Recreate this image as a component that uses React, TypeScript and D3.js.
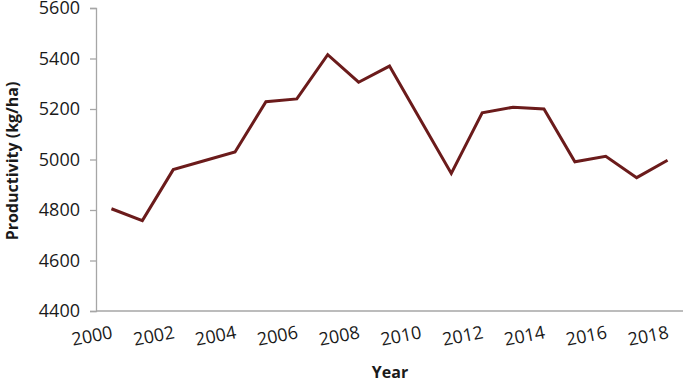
import React, { useEffect, useRef } from "react";
import * as d3 from "d3";

const years = [
  2000, 2001, 2002, 2003, 2004, 2005, 2006, 2007, 2008, 2009,
  2010, 2011, 2012, 2013, 2014, 2015, 2016, 2017, 2018,
];
const productivity = [
  4805, 4758, 4960, 4995, 5030, 5229, 5240, 5415, 5306, 5370,
  5157, 4945, 5185, 5207, 5200, 4991, 5013, 4928, 4997,
];
const yTicks = [4400, 4600, 4800, 5000, 5200, 5400, 5600];
const xTickLabels = [2000, 2002, 2004, 2006, 2008, 2010, 2012, 2014, 2016, 2018];

const App = () => {
  const ref = useRef<SVGSVGElement>(null);

  const W = 685;
  const H = 383;
  const margin = { top: 8, right: 2, bottom: 72, left: 96 };
  const width = W - margin.left - margin.right;
  const height = H - margin.top - margin.bottom;

  useEffect(() => {
    const svg = d3.select(ref.current);
    svg.selectAll("*").remove();

    const font = "'Open Sans', sans-serif";
    const axisColor = "#a6a6a6";

    // Excel-style category axis: points sit in the middle of each band
    const xScale = d3
      .scaleBand<number>()
      .domain(years)
      .range([0, width]);

    const yScale = d3.scaleLinear().domain([4400, 5600]).range([height, 0]);

    const g = svg
      .append("g")
      .attr("transform", `translate(${margin.left},${margin.top})`);

    // y axis
    const yAxis = g
      .append("g")
      .call(d3.axisLeft(yScale).tickValues(yTicks).tickSize(6).tickPadding(10).tickFormat(d3.format("d")));
    yAxis.select(".domain").attr("stroke", axisColor).attr("stroke-width", 1.3);
    yAxis.selectAll(".tick line").attr("stroke", axisColor).attr("stroke-width", 1.3);
    yAxis
      .selectAll(".tick text")
      .attr("font-family", font)
      .attr("font-size", 18)
      .attr("fill", "#1a1a1a");

    // x axis line
    g.append("line")
      .attr("x1", 0)
      .attr("x2", width)
      .attr("y1", height)
      .attr("y2", height)
      .attr("stroke", axisColor)
      .attr("stroke-width", 1.3);

    // x labels, every other year, slightly rotated
    g.append("g")
      .selectAll("text")
      .data(xTickLabels)
      .join("text")
      .attr(
        "transform",
        (d) => `translate(${(xScale(d) as number) + xScale.bandwidth() / 2 + 2},${height + 27}) rotate(-11)`
      )
      .attr("text-anchor", "end")
      .attr("font-family", font)
      .attr("font-size", 18)
      .attr("fill", "#1a1a1a")
      .text((d) => d);

    const line = d3
      .line<number>()
      .x((d, i) => (xScale(years[i]) as number) + xScale.bandwidth() / 2)
      .y((d) => yScale(d));

    g.append("path")
      .datum(productivity)
      .attr("fill", "none")
      .attr("stroke", "#6b1b1b")
      .attr("stroke-width", 3)
      .attr("stroke-linejoin", "miter")
      .attr("d", line);

    // axis titles
    svg
      .append("text")
      .attr("transform", `translate(18,161) rotate(-90)`)
      .attr("text-anchor", "middle")
      .attr("font-family", font)
      .attr("font-weight", "bold")
      .attr("font-size", 16)
      .attr("fill", "#1a1a1a")
      .text("Productivity (kg/ha)");

    svg
      .append("text")
      .attr("x", 390)
      .attr("y", 378)
      .attr("text-anchor", "middle")
      .attr("font-family", font)
      .attr("font-weight", "bold")
      .attr("font-size", 16)
      .attr("fill", "#1a1a1a")
      .text("Year");
  }, []);

  return (
    <div>
      <svg
        ref={ref}
        width={W}
        height={H}
        style={{ position: "absolute", left: 0, top: 0, background: "#fff" }}
      ></svg>
    </div>
  );
};

export default App;
